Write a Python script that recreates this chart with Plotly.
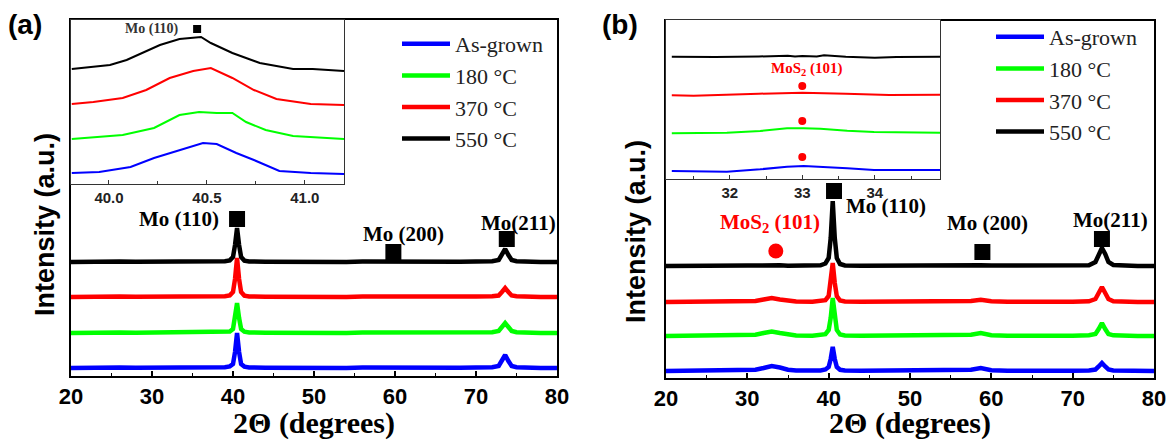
import plotly.graph_objects as go

# ---------------- data ----------------
series_names = ["As-grown", "180 °C", "370 °C", "550 °C"]
series_colors = ["#0000ff", "#00ff00", "#ff0000", "#000000"]

# Panel (a) main pattern
xa = [20, 22, 24, 26, 28, 30, 32, 34, 36, 38, 39.0, 39.6, 40.0, 40.25, 40.5, 40.75, 41.0, 41.4, 42,
      44, 46, 48, 50, 52, 54, 56, 58, 59, 60, 61, 62, 64, 66, 68, 70, 72,
      72.8, 73.2, 73.6, 74.0, 74.4, 75, 76, 78, 80]
a_blue = [8.0, 8.4, 8.1, 8.5, 8.2, 8.3, 8.0, 8.6, 8.2, 8.4, 8.7, 9.6, 12, 24, 43, 24, 12, 9.4, 8.6,
          8.3, 8.1, 8.4, 8.0, 8.3, 8.1, 8.4, 8.2, 8.5, 8.3, 8.1, 8.4, 8.0, 8.3, 8.2, 8.4, 8.7,
          10, 15, 21, 15, 10, 8.8, 8.4, 8.1, 8.0]
a_green = [43.0, 43.4, 43.1, 43.5, 43.2, 43.3, 43.0, 43.6, 43.2, 43.4, 43.7, 44.5, 47, 58, 73, 58, 47, 44.3, 43.6,
           43.3, 43.1, 43.4, 43.0, 43.3, 43.1, 43.4, 43.4, 43.8, 43.5, 43.1, 43.4, 43.0, 43.3, 43.2, 43.4, 43.7,
           45, 49, 53, 49, 45, 43.8, 43.4, 43.1, 43.0]
a_red = [79.0, 79.4, 79.1, 79.5, 79.2, 79.3, 79.0, 79.6, 79.2, 79.4, 79.7, 80.6, 84, 97, 118, 97, 84, 80.4, 79.6,
         79.3, 79.1, 79.4, 79.0, 79.3, 79.1, 79.4, 79.3, 79.6, 79.4, 79.1, 79.4, 79.0, 79.3, 79.2, 79.4, 79.7,
         80.5, 84, 88, 84, 80.5, 79.8, 79.4, 79.1, 79.0]
a_black = [114.0, 114.4, 114.1, 114.5, 114.2, 114.3, 114.0, 114.6, 114.2, 114.4, 114.7, 115.6, 119, 131, 148, 131, 119, 115.4, 114.6,
           114.3, 114.1, 114.4, 114.0, 114.3, 114.1, 114.4, 114.2, 114.5, 114.3, 114.1, 114.4, 114.0, 114.3, 114.2, 114.4, 114.7,
           116, 121, 127, 121, 116, 114.8, 114.4, 114.1, 114.0]

# Panel (a) inset: Mo (110) region
ia_x_blue = [39.81, 39.95, 40.11, 40.23, 40.33, 40.48, 40.55, 40.65, 40.74, 40.87, 41.03, 41.2]
ia_y_blue = [11, 12, 17, 26, 32, 41, 40, 31, 24, 13, 11, 10]
ia_x_green = [39.81, 39.92, 40.07, 40.23, 40.36, 40.46, 40.55, 40.63, 40.70, 40.80, 40.94, 41.2]
ia_y_green = [45, 47, 49, 56, 69, 72, 71, 71, 62, 54, 48, 45]
ia_x_red = [39.81, 39.92, 40.07, 40.19, 40.31, 40.43, 40.52, 40.63, 40.74, 40.855, 41.03, 41.2]
ia_y_red = [80, 82, 86, 94, 106, 113, 116, 106, 94, 85, 80, 79]
ia_x_black = [39.81, 40.005, 40.09, 40.17, 40.26, 40.36, 40.43, 40.47, 40.52, 40.63, 40.77, 40.94, 41.04, 41.2]
ia_y_black = [115, 119, 124, 131, 139, 145, 146, 147, 141, 131, 121, 115, 115, 113]

# Panel (b) main pattern
xb = [20, 22, 24, 26, 28, 30, 31, 32, 33, 34, 35, 36, 38, 39.0, 39.6, 40.0, 40.25, 40.5, 40.75, 41.0, 41.4, 42,
      44, 46, 48, 50, 52, 54, 56, 57.5, 58.7, 60, 62, 64, 66, 68, 70, 72,
      72.8, 73.2, 73.6, 74.0, 74.4, 75, 76, 78, 80]
b_blue = [7.0, 7.3, 7.1, 7.4, 7.2, 7.5, 8.2, 10, 12, 10.5, 8.3, 7.5, 7.3, 7.6, 8.5, 11, 19, 31, 19, 11, 8.2, 7.5,
          7.2, 7.4, 7.1, 7.3, 7.0, 7.3, 7.4, 8.2, 10, 7.8, 7.3, 7.1, 7.4, 7.2, 7.3, 7.6,
          8.5, 11.5, 15, 11.5, 8.5, 7.6, 7.3, 7.1, 7.0]
b_green = [42.0, 42.3, 42.1, 42.4, 42.2, 42.5, 43.2, 45, 46.5, 45, 43.3, 42.5, 42.3, 42.6, 43.8, 48, 60, 80, 60, 48, 43.5, 42.5,
           42.2, 42.4, 42.1, 42.3, 42.0, 42.3, 42.4, 43.3, 45, 42.8, 42.3, 42.1, 42.4, 42.2, 42.3, 42.7,
           44, 49, 55, 49, 44, 42.7, 42.3, 42.1, 42.0]
b_red = [76.0, 76.3, 76.1, 76.4, 76.2, 76.5, 77, 78.5, 80, 78.5, 77, 76.5, 76.3, 76.6, 77.8, 82, 95, 115, 95, 82, 77.5, 76.5,
         76.2, 76.4, 76.1, 76.3, 76.0, 76.3, 76.5, 77, 78.2, 76.8, 76.3, 76.1, 76.4, 76.2, 76.3, 76.7,
         79, 85, 91, 85, 79, 76.8, 76.3, 76.1, 76.0]
b_black = [112.0, 112.3, 112.1, 112.4, 112.2, 112.5, 112.4, 112.8, 113.2, 112.7, 112.3, 112.4, 112.3, 112.7, 114.5, 120, 140, 177, 140, 120, 114, 112.5,
           112.2, 112.4, 112.1, 112.3, 112.0, 112.3, 112.4, 112.6, 112.8, 112.4, 112.3, 112.1, 112.4, 112.2, 112.3, 112.8,
           116, 124, 130, 124, 116, 113, 112.4, 112.1, 112.0]

# Panel (b) inset: MoS2 (101) region
ib_x_blue = [31.2, 31.96, 32.42, 32.79, 33.02, 33.25, 33.62, 33.99, 34.26, 34.9]
ib_y_blue = [8, 7.3, 9.7, 12.3, 13, 12.3, 10.7, 9, 9, 9]
ib_x_green = [31.2, 31.96, 32.42, 32.79, 33.02, 33.25, 33.62, 33.99, 34.9]
ib_y_green = [45.7, 46.3, 48, 50.7, 50.7, 50.3, 48.3, 47, 46.3]
ib_x_red = [31.2, 31.5, 32.4, 32.8, 33.0, 33.6, 34.2, 34.9]
ib_y_red = [83.7, 83.3, 85.3, 86.0, 86.3, 85.3, 84, 84.3]
ib_x_black = [31.2, 31.8, 32.4, 32.8, 32.9, 33.0, 33.2, 33.3, 33.6, 34.0, 34.3, 34.9]
ib_y_black = [122.3, 122.0, 122.5, 123.3, 122.5, 123.0, 122.6, 123.7, 122.3, 121.3, 122.0, 122.3]
ib_dot_x = [33.0, 33.0, 33.0]
ib_dot_y = [93, 58, 22]

# Peak markers
a_sq_x = [40.5, 59.8, 73.8]
a_sq_y = [157, 124, 137]
b_sq_x = [40.66, 58.9, 73.6]
b_sq_y = [187, 126, 139]
b_circ_x = [33.5]
b_circ_y = [127]
ia_sq_x = [40.45]
ia_sq_y = [155]

SANS = "Liberation Sans"
SERIF = "Liberation Serif"

fig = go.Figure()

main_a = [a_blue, a_green, a_red, a_black]
main_b = [b_blue, b_green, b_red, b_black]
ins_a = [(ia_x_blue, ia_y_blue), (ia_x_green, ia_y_green), (ia_x_red, ia_y_red), (ia_x_black, ia_y_black)]
ins_b = [(ib_x_blue, ib_y_blue), (ib_x_green, ib_y_green), (ib_x_red, ib_y_red), (ib_x_black, ib_y_black)]

for name, col, ya in zip(series_names, series_colors, main_a):
    fig.add_trace(go.Scatter(x=xa, y=ya, mode="lines", name=name, legend="legend",
                             line=dict(color=col, width=4.5), xaxis="x", yaxis="y"))
for name, col, yb in zip(series_names, series_colors, main_b):
    fig.add_trace(go.Scatter(x=xb, y=yb, mode="lines", name=name, legend="legend2",
                             line=dict(color=col, width=4.5), xaxis="x3", yaxis="y3"))
for name, col, (ix, iy) in zip(series_names, series_colors, ins_a):
    fig.add_trace(go.Scatter(x=ix, y=iy, mode="lines", name=name, showlegend=False,
                             line=dict(color=col, width=2), xaxis="x2", yaxis="y2"))
for name, col, (ix, iy) in zip(series_names, series_colors, ins_b):
    fig.add_trace(go.Scatter(x=ix, y=iy, mode="lines", name=name, showlegend=False,
                             line=dict(color=col, width=2), xaxis="x4", yaxis="y4"))

# markers
fig.add_trace(go.Scatter(x=a_sq_x, y=a_sq_y, mode="markers", showlegend=False,
                         marker=dict(symbol="square", size=16, color="black"), xaxis="x", yaxis="y"))
fig.add_trace(go.Scatter(x=b_sq_x, y=b_sq_y, mode="markers", showlegend=False,
                         marker=dict(symbol="square", size=16, color="black"), xaxis="x3", yaxis="y3"))
fig.add_trace(go.Scatter(x=b_circ_x, y=b_circ_y, mode="markers", showlegend=False,
                         marker=dict(symbol="circle", size=15, color="#ff0000"), xaxis="x3", yaxis="y3"))
fig.add_trace(go.Scatter(x=ia_sq_x, y=ia_sq_y, mode="markers", showlegend=False,
                         marker=dict(symbol="square", size=8, color="black"), xaxis="x2", yaxis="y2"))
fig.add_trace(go.Scatter(x=ib_dot_x, y=ib_dot_y, mode="markers", showlegend=False,
                         marker=dict(symbol="circle", size=8, color="#ff0000"), xaxis="x4", yaxis="y4"))

W, H = 1170, 440
def px(x):
    return x / W
def py(y):
    return 1 - y / H

main_x_common = dict(range=[20, 80], dtick=10, tick0=20, ticks="inside", ticklen=5, tickwidth=1.5,
                     tickcolor="black", showline=True, linecolor="black", linewidth=1.5, mirror=True,
                     showgrid=False, zeroline=False, automargin=False,
                     minor=dict(ticks="inside", ticklen=3, dtick=5, tickcolor="black", tickwidth=1),
                     tickfont=dict(family=SANS, size=22, color="black", weight="bold"),
                     title=dict(text="2Θ (degrees)", standoff=6,
                                font=dict(family=SERIF, size=30, color="black", weight="bold")))
main_y_common = dict(showticklabels=False, ticks="", showline=True, linecolor="black", linewidth=1.5,
                     mirror=True, showgrid=False, zeroline=False, automargin=False)
inset_y_common = dict(showticklabels=False, ticks="", showline=True, linecolor="#333333", linewidth=1,
                      mirror=True, showgrid=False, zeroline=False, automargin=False)

fig.update_layout(
    width=W, height=H, margin=dict(l=0, r=0, t=0, b=0, autoexpand=False),
    paper_bgcolor="white", plot_bgcolor="white",
    xaxis=dict(domain=[px(71), px(557)], anchor="y", **main_x_common),
    yaxis=dict(domain=[py(376), py(20)], anchor="x", range=[0, 356], **main_y_common),
    xaxis3=dict(domain=[px(666), px(1154)], anchor="y3", **main_x_common),
    yaxis3=dict(domain=[py(378), py(21)], anchor="x3", range=[0, 357], **main_y_common),
    xaxis2=dict(domain=[px(71), px(344)], anchor="y2", range=[39.806, 41.2],
                tickvals=[40.0, 40.5, 41.0], ticktext=["40.0", "40.5", "41.0"],
                ticks="inside", ticklen=4, tickcolor="#333333", showline=True, linecolor="#333333",
                linewidth=1, mirror=True, showgrid=False, zeroline=False, automargin=False,
                minor=dict(tickvals=[40.25, 40.75], ticks="inside", ticklen=3, tickcolor="#333333"),
                tickfont=dict(family=SANS, size=15, color="#222222", weight="bold")),
    yaxis2=dict(domain=[py(184), py(20)], anchor="x2", range=[0, 164], **inset_y_common),
    xaxis4=dict(domain=[px(666), px(940)], anchor="y4", range=[31.12, 34.9],
                tickvals=[32, 33, 34], ticktext=["32", "33", "34"],
                ticks="inside", ticklen=4, tickcolor="#333333", showline=True, linecolor="#333333",
                linewidth=1, mirror=True, showgrid=False, zeroline=False, automargin=False,
                minor=dict(tickvals=[31.5, 32.5, 33.5, 34.5], ticks="inside", ticklen=3, tickcolor="#333333"),
                tickfont=dict(family=SANS, size=15, color="#222222", weight="bold")),
    yaxis4=dict(domain=[py(179), py(20)], anchor="x4", range=[0, 159], **inset_y_common),
    legend=dict(x=px(397), y=py(23), xanchor="left", yanchor="top", bgcolor="rgba(0,0,0,0)",
                font=dict(family=SERIF, size=22, color="#222222"), itemwidth=48, tracegroupgap=0),
    legend2=dict(x=px(991), y=py(16), xanchor="left", yanchor="top", bgcolor="rgba(0,0,0,0)",
                 font=dict(family=SERIF, size=22, color="#222222"), itemwidth=48, tracegroupgap=0),
)

ann_font = dict(family=SERIF, size=21, color="black", weight="bold")
C = dict(xanchor="center", yanchor="middle", showarrow=False)
annotations = [
    # panel letters
    dict(text="(a)", x=px(25), y=py(25), xref="paper", yref="paper", **C,
         font=dict(family=SANS, size=28, color="black", weight="bold")),
    dict(text="(b)", x=px(620), y=py(25), xref="paper", yref="paper", **C,
         font=dict(family=SANS, size=28, color="black", weight="bold")),
    # y titles
    dict(text="Intensity (a.u.)", x=px(45), y=py(225), xref="paper", yref="paper", **C,
         textangle=-90, font=dict(family=SANS, size=27, color="black", weight="bold")),
    dict(text="Intensity (a.u.)", x=px(636), y=py(232), xref="paper", yref="paper", **C,
         textangle=-90, font=dict(family=SANS, size=27, color="black", weight="bold")),
    # panel (a) peak labels
    dict(text="Mo (110)", x=33.3, y=157, xref="x", yref="y", **C, font=ann_font),
    dict(text="Mo (200)", x=61.0, y=142, xref="x", yref="y", **C, font=ann_font),
    dict(text="Mo(211)", x=75.3, y=153, xref="x", yref="y", **C, font=ann_font),
    dict(text="Mo (110)", x=40.22, y=155, xref="x2", yref="y2", **C,
         font=dict(family=SERIF, size=14, color="#333333", weight="bold")),
    # panel (b) peak labels
    dict(text="MoS<sub>2</sub> (101)", x=32.8, y=155, xref="x3", yref="y3", **C,
         font=dict(family=SERIF, size=21, color="#ff0000", weight="bold")),
    dict(text="Mo (110)", x=47.0, y=172, xref="x3", yref="y3", **C, font=ann_font),
    dict(text="Mo (200)", x=59.5, y=155, xref="x3", yref="y3", **C, font=ann_font),
    dict(text="Mo(211)", x=74.6, y=158, xref="x3", yref="y3", **C, font=ann_font),
    dict(text="MoS<sub>2</sub> (101)", x=33.06, y=110, xref="x4", yref="y4", **C,
         font=dict(family=SERIF, size=15, color="#ff0000", weight="bold")),
]
fig.update_layout(annotations=annotations)

fig.write_html("out.html")
